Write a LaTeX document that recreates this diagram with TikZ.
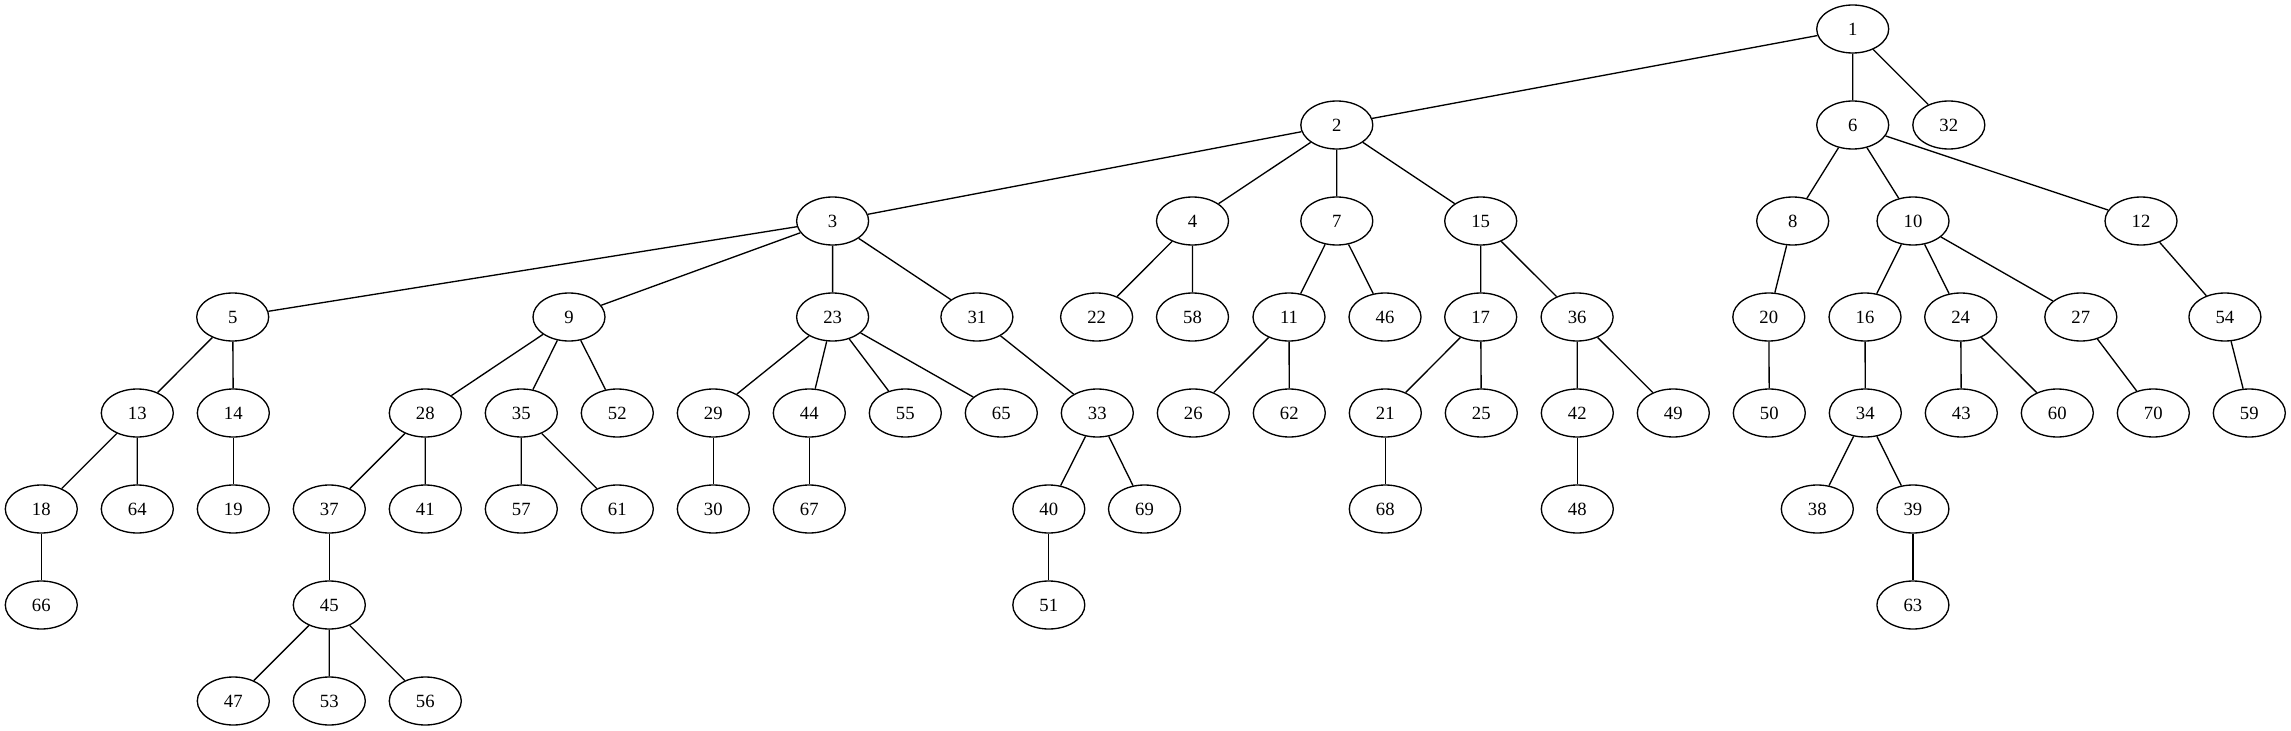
\documentclass[tikz,border=0pt]{standalone}
\usepackage{fontspec}
\setmainfont{Liberation Serif}
\usetikzlibrary{shapes.geometric}

\begin{document}
\begin{tikzpicture}[x=0.75pt, y=-0.75pt,
	vtx/.style={draw, ellipse, line width=1pt, inner sep=0pt, minimum width=54pt, minimum height=36pt, font=\fontsize{14}{16}\selectfont},
	link/.style={line width=1pt}]
	\useasboundingbox (0,0) rectangle (2291,731);
	% row heights
	\def\yA{29}
	\def\yB{125}
	\def\yC{221}
	\def\yD{317}
	\def\yE{413}
	\def\yF{509}
	\def\yG{605}
	\def\yH{701}
	
	% --- ROOT and first level ---
	\node[vtx] (n1) at (1852.7,\yA) {1};
	\node[vtx] (n2) at (1336.8,\yB) {2};
	\node[vtx] (n6) at (1852.7,\yB) {6};
	\node[vtx] (n32) at (1948.8,\yB) {32};
	
	% --- second level ---
	\node[vtx] (n3) at (832.6,\yC) {3};
	\node[vtx] (n4) at (1192.5,\yC) {4};
	\node[vtx] (n7) at (1336.8,\yC) {7};
	\node[vtx] (n15) at (1480.7,\yC) {15};
	\node[vtx] (n8) at (1792.7,\yC) {8};
	\node[vtx] (n10) at (1913,\yC) {10};
	\node[vtx] (n12) at (2141,\yC) {12};
	
	% --- third level ---
	\node[vtx] (n5) at (232.7,\yD) {5};
	\node[vtx] (n9) at (569,\yD) {9};
	\node[vtx] (n23) at (832.6,\yD) {23};
	\node[vtx] (n31) at (976.9,\yD) {31};
	\node[vtx] (n22) at (1096.6,\yD) {22};
	\node[vtx] (n58) at (1192.5,\yD) {58};
	\node[vtx] (n11) at (1289,\yD) {11};
	\node[vtx] (n46) at (1385,\yD) {46};
	\node[vtx] (n17) at (1480.7,\yD) {17};
	\node[vtx] (n36) at (1577.1,\yD) {36};
	\node[vtx] (n20) at (1768.8,\yD) {20};
	\node[vtx] (n16) at (1865,\yD) {16};
	\node[vtx] (n24) at (1960.7,\yD) {24};
	\node[vtx] (n27) at (2080.8,\yD) {27};
	\node[vtx] (n54) at (2224.9,\yD) {54};
	
	% --- fourth level ---
	\node[vtx] (n13) at (137.3,\yE) {13};
	\node[vtx] (n14) at (233.3,\yE) {14};
	\node[vtx] (n28) at (425.3,\yE) {28};
	\node[vtx] (n35) at (521.3,\yE) {35};
	\node[vtx] (n52) at (617.3,\yE) {52};
	\node[vtx] (n29) at (713.3,\yE) {29};
	\node[vtx] (n44) at (809.3,\yE) {44};
	\node[vtx] (n55) at (905.3,\yE) {55};
	\node[vtx] (n65) at (1001.3,\yE) {65};
	\node[vtx] (n33) at (1097.3,\yE) {33};
	\node[vtx] (n26) at (1193.3,\yE) {26};
	\node[vtx] (n62) at (1289.3,\yE) {62};
	\node[vtx] (n21) at (1385.3,\yE) {21};
	\node[vtx] (n25) at (1481.3,\yE) {25};
	\node[vtx] (n42) at (1577.3,\yE) {42};
	\node[vtx] (n49) at (1673.3,\yE) {49};
	\node[vtx] (n50) at (1769.3,\yE) {50};
	\node[vtx] (n34) at (1865.3,\yE) {34};
	\node[vtx] (n43) at (1961.3,\yE) {43};
	\node[vtx] (n60) at (2057.3,\yE) {60};
	\node[vtx] (n70) at (2153.3,\yE) {70};
	\node[vtx] (n59) at (2249.3,\yE) {59};
	
	% --- fifth level ---
	\node[vtx] (n18) at (41.3,\yF) {18};
	\node[vtx] (n64) at (137.3,\yF) {64};
	\node[vtx] (n19) at (233.3,\yF) {19};
	\node[vtx] (n37) at (329.3,\yF) {37};
	\node[vtx] (n41) at (425.3,\yF) {41};
	\node[vtx] (n57) at (521.3,\yF) {57};
	\node[vtx] (n61) at (617.3,\yF) {61};
	\node[vtx] (n30) at (713.3,\yF) {30};
	\node[vtx] (n67) at (809.3,\yF) {67};
	\node[vtx] (n40) at (1048.8,\yF) {40};
	\node[vtx] (n69) at (1144.5,\yF) {69};
	\node[vtx] (n68) at (1385.3,\yF) {68};
	\node[vtx] (n48) at (1577.3,\yF) {48};
	\node[vtx] (n38) at (1817.3,\yF) {38};
	\node[vtx] (n39) at (1912.9,\yF) {39};
	
	% --- sixth and seventh level ---
	\node[vtx] (n66) at (41.3,\yG) {66};
	\node[vtx] (n45) at (329.3,\yG) {45};
	\node[vtx] (n51) at (1048.8,\yG) {51};
	\node[vtx] (n63) at (1912.9,\yG) {63};
	\node[vtx] (n47) at (233.3,\yH) {47};
	\node[vtx] (n53) at (329.3,\yH) {53};
	\node[vtx] (n56) at (425.3,\yH) {56};
	
	% --- EDGES ---
	\draw[link] (n1) -- (n2) (n1) -- (n6) (n1) -- (n32);
	\draw[link] (n2) -- (n3) (n2) -- (n4) (n2) -- (n7) (n2) -- (n15);
	\draw[link] (n6) -- (n8) (n6) -- (n10) (n6) -- (n12);
	\draw[link] (n3) -- (n5) (n3) -- (n9) (n3) -- (n23) (n3) -- (n31);
	\draw[link] (n4) -- (n22) (n4) -- (n58);
	\draw[link] (n7) -- (n11) (n7) -- (n46);
	\draw[link] (n15) -- (n17) (n15) -- (n36);
	\draw[link] (n8) -- (n20);
	\draw[link] (n10) -- (n16) (n10) -- (n24) (n10) -- (n27);
	\draw[link] (n12) -- (n54);
	\draw[link] (n5) -- (n13) (n5) -- (n14);
	\draw[link] (n9) -- (n28) (n9) -- (n35) (n9) -- (n52);
	\draw[link] (n23) -- (n29) (n23) -- (n44) (n23) -- (n55) (n23) -- (n65);
	\draw[link] (n31) -- (n33);
	\draw[link] (n11) -- (n26) (n11) -- (n62);
	\draw[link] (n17) -- (n21) (n17) -- (n25);
	\draw[link] (n36) -- (n42) (n36) -- (n49);
	\draw[link] (n20) -- (n50);
	\draw[link] (n16) -- (n34);
	\draw[link] (n24) -- (n43) (n24) -- (n60);
	\draw[link] (n27) -- (n70);
	\draw[link] (n54) -- (n59);
	\draw[link] (n13) -- (n18) (n13) -- (n64);
	\draw[link] (n14) -- (n19);
	\draw[link] (n28) -- (n37) (n28) -- (n41);
	\draw[link] (n35) -- (n57) (n35) -- (n61);
	\draw[link] (n29) -- (n30);
	\draw[link] (n44) -- (n67);
	\draw[link] (n33) -- (n40) (n33) -- (n69);
	\draw[link] (n21) -- (n68);
	\draw[link] (n42) -- (n48);
	\draw[link] (n34) -- (n38) (n34) -- (n39);
	\draw[link] (n18) -- (n66);
	\draw[link] (n37) -- (n45);
	\draw[link] (n40) -- (n51);
	\draw[link] (n39) -- (n63);
	\draw[link] (n45) -- (n47) (n45) -- (n53) (n45) -- (n56);
\end{tikzpicture}
\end{document}
